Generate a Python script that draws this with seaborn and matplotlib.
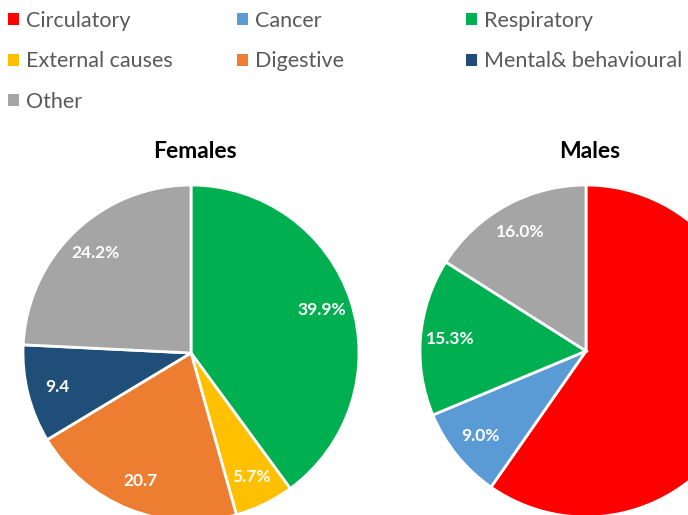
import matplotlib
matplotlib.use("Agg")
import matplotlib.pyplot as plt
import seaborn as sns
from matplotlib.patches import Patch

# categories and colours (Excel-like palette)
causes = ["Circulatory", "Cancer", "Respiratory", "External causes",
          "Digestive", "Mental& behavioural", "Other"]
cause_colors = ["#FF0000", "#5B9BD5", "#00B050", "#FFC000",
                "#ED7D31", "#1F4E79", "#A5A5A5"]

# share of deaths (%), same order as causes
females_share = [0.0, 0.0, 39.9, 5.7, 20.7, 9.4, 24.2]
males_share = [59.7, 9.0, 15.3, 0.0, 0.0, 0.0, 16.0]

# data labels as shown on the slices
females_labels = ["", "", "39.9%", "5.7%", "20.7", "9.4", "24.2%"]
males_labels = ["59.7%", "9.0%", "15.3%", "", "", "", "16.0%"]

sns.set_theme(style="white")
plt.rcParams['font.family'] = ['Lato', 'DejaVu Sans']

W, H = 688, 515
fig = plt.figure(figsize=(W / 100, H / 100), dpi=100)
palette = sns.color_palette(cause_colors)


def draw_pie(cx, cy, r, shares, labels, title):
    # axes placed in pixel space so the pie can run off the canvas
    ax = fig.add_axes([(cx - r) / W, (H - cy - r) / H, 2 * r / W, 2 * r / H])
    keep = [i for i, v in enumerate(shares) if v > 0]
    wedges, texts = ax.pie([shares[i] for i in keep],
                           labels=[labels[i] for i in keep],
                           colors=[palette[i] for i in keep],
                           startangle=90, counterclock=False,
                           labeldistance=0.82,
                           wedgeprops={'edgecolor': 'white', 'linewidth': 2},
                           textprops={'color': 'white', 'fontsize': 12.5,
                                      'fontweight': 'bold'})
    for t in texts:
        t.set_horizontalalignment('center')
        t.set_verticalalignment('center')
    ax.set_xlim(-1, 1)
    ax.set_ylim(-1, 1)
    ax.set_aspect('equal')
    fig.text(cx / W + 0.005, 1 - 151 / H, title, ha='center', va='center',
             fontsize=16.5, fontweight='bold', color='black')


draw_pie(191, 353, 168, females_share, females_labels, "Females")
draw_pie(586, 351, 166, males_share, males_labels, "Males")

# legend laid out in three columns like the original
columns = [[0, 3, 6], [1, 4], [2, 5]]
col_x = [8, 237, 466]
for idx, x0 in zip(columns, col_x):
    handles = [Patch(facecolor=palette[i], edgecolor='none', label=causes[i]) for i in idx]
    leg = fig.legend(handles=handles, loc='upper left',
                     bbox_to_anchor=(x0 / W, 1 - 11 / H), frameon=False,
                     fontsize=15.5, handlelength=0.5, handleheight=0.5,
                     handletextpad=0.35, labelspacing=0.95, borderpad=0,
                     borderaxespad=0)
    for t in leg.get_texts():
        t.set_color('#595959')

fig.savefig("out.png", dpi=100)
